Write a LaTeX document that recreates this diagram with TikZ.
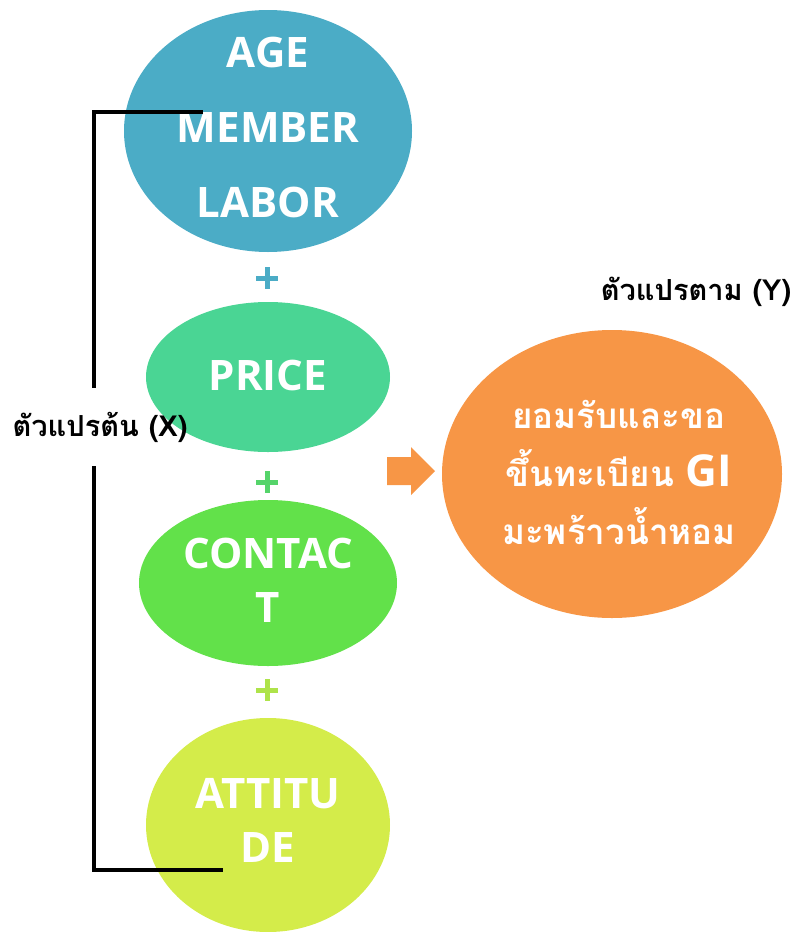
\documentclass[tikz,border=0pt]{standalone}
\usepackage{fontspec}
\setmainfont{Open Sans}
\newfontfamily\thaifont[Script=Thai]{Loma}
\definecolor{ageBlue}{HTML}{4BACC6}
\definecolor{priceGreen}{HTML}{4AD594}
\definecolor{contactGreen}{HTML}{62E14A}
\definecolor{attLime}{HTML}{D4EC4A}
\definecolor{resOrange}{HTML}{F79646}
\definecolor{plusGreen}{HTML}{55D46A}
\definecolor{plusLime}{HTML}{AEE34A}
\usetikzlibrary{positioning,shapes.geometric}

\begin{document}
\begin{tikzpicture}[x=1pt, y=-1pt,
  blob/.style={ellipse, draw=none, inner sep=0pt},
  word/.style={text=white, align=center, inner sep=0pt,
    font=\fontsize{42}{54}\selectfont\bfseries},
  thaiword/.style={text=white, align=center, inner sep=0pt,
    font=\thaifont\fontsize{35}{58}\selectfont\bfseries},
  tag/.style={text=black, inner sep=0pt,
    font=\thaifont\fontsize{29}{32}\selectfont\bfseries},
  plus/.style={line width=5pt}
]
  \useasboundingbox (0,0) rectangle (796,932);

  % independent variables
  \node[blob, fill=ageBlue, minimum width=288pt, minimum height=242pt] (age) at (268,131) {};
  \node[blob, fill=priceGreen, minimum width=244pt, minimum height=150pt] (price) at (268,377) {};
  \node[blob, fill=contactGreen, minimum width=258pt, minimum height=166pt] (contact) at (268,583) {};
  \node[blob, fill=attLime, minimum width=244pt, minimum height=214pt] (attitude) at (268,825) {};

  \node[word] (agetext) at (268,127) {AGE\\[21pt]MEMBER\\[21pt]LABOR};
  \node[word] (pricetext) at (268,375) {PRICE};
  \node[word] (contacttext) at (268,580) {CONTAC\\T};
  \node[word] (atttext) at (268,820) {ATTITU\\DE};

  % plus signs
  \draw[plus, ageBlue] (256,278) -- (278,278) (267,267) -- (267,289);
  \draw[plus, plusGreen] (256,482) -- (278,482) (267,471) -- (267,493);
  \draw[plus, plusLime] (256,690) -- (278,690) (267,679) -- (267,701);

  % dependent variable
  \node[blob, fill=resOrange, minimum width=340pt, minimum height=288pt] (result) at (612,474) {};
  \node[thaiword] (resulttext) at (619,472) {ยอมรับและขอ\\ขึ้นทะเบียน {\normalfont\bfseries\fontsize{44}{58}\selectfont GI}\\มะพร้าวน้ำหอม};
  \node[tag, anchor=base] (ylabel) at (696,300) {ตัวแปรตาม (Y)};

  \fill[resOrange] (387,457) -- (411,457) -- (411,447) -- (435,471)
    -- (411,495) -- (411,485) -- (387,485) -- cycle;

  % bracket
  \node[tag, anchor=base] (xlabel) at (100,436) {ตัวแปรต้น (X)};
  \draw[line width=4pt] (203,112) -| (94,388);
  \draw[line width=4pt] (94,466) |- (223,870);
\end{tikzpicture}
\end{document}
